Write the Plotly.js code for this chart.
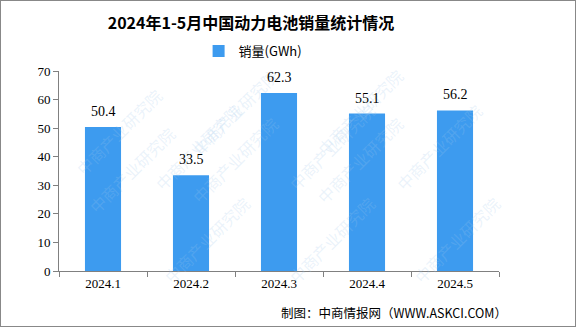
<!DOCTYPE html>
<html><head><meta charset="utf-8">
<script src="https://cdn.plot.ly/plotly-3.0.1.min.js"></script>
<style>html,body{margin:0;padding:0;background:#fff}#c{width:576px;height:327px;box-sizing:border-box;border:1px solid #888}</style>
</head><body><div id="c"></div>
<script>
const categories = ["2024.1","2024.2","2024.3","2024.4","2024.5"];
const sales = [50.4, 33.5, 62.3, 55.1, 56.2];
const yTicks = [0,10,20,30,40,50,60,70];
const seriesName = "销量(GWh)";
const titleText = "2024年1-5月中国动力电池销量统计情况";
const sourceText = "制图：中商情报网（WWW.ASKCI.COM）";

const numFont = "SimSun, 'Liberation Serif', 'Noto Sans CJK SC', serif";
const cjkFont = "'Noto Sans CJK SC', sans-serif";

const wm = [];
const wmPos = [[0.02,0.95],[0.40,1.05],[0.80,1.05],[0.2,0.62],[0.62,0.62],[0.98,0.62],[0.05,0.25],[0.4,0.3],[0.8,0.3],[0.22,-0.1],[0.62,-0.1],[1.02,-0.1]];
wmPos.forEach(p=>wm.push({xref:'paper',yref:'paper',x:p[0],y:p[1],text:'中商产业研究院',showarrow:false,textangle:-45,font:{family:cjkFont,size:16,color:'rgba(160,200,235,0.22)'}}));

const labels = sales.map((v,i)=>({xref:'x',yref:'y',x:i,y:v,yanchor:'bottom',yshift:6,text:v.toFixed(1),showarrow:false,font:{family:numFont,size:14,color:'#000'}}));

const trace = {
  type:'bar', x:categories, y:sales, name:seriesName,
  marker:{color:'#3d9bef'},
  hoverinfo:'none'
};
const layout = {
  width:576, height:327,
  margin:{l:58,r:78,t:70,b:57},
  paper_bgcolor:'rgba(0,0,0,0)', plot_bgcolor:'rgba(0,0,0,0)',
  title:{text:'<b>'+titleText+'</b>', x:0.434, xanchor:'center', y:0.93, yanchor:'middle', font:{family:cjkFont,size:16,color:'#000'}},
  showlegend:true,
  legend:{orientation:'h', x:0.44, xanchor:'center', y:1.10, yanchor:'middle', font:{family:cjkFont,size:13,color:'#000'}, itemwidth:30},
  bargap:0.59,
  xaxis:{type:'category', categoryarray:categories, categoryorder:'array', range:[-0.5,4.5], showline:true, linecolor:'#808080', linewidth:1, ticks:'outside', tickson:'boundaries', ticklen:5, tickcolor:'#808080', tickfont:{family:numFont,size:13,color:'#000'}, showgrid:false, zeroline:false, fixedrange:true},
  yaxis:{range:[0,70], tickvals:yTicks, showline:true, linecolor:'#808080', linewidth:1, ticks:'outside', ticklen:5, tickcolor:'#808080', tickfont:{family:numFont,size:13,color:'#000'}, showgrid:false, zeroline:false, fixedrange:true},
  annotations: wm.concat(labels).concat([{xref:'paper',yref:'paper',x:1.023,xanchor:'right',y:-0.205,yanchor:'middle',text:sourceText,showarrow:false,font:{family:cjkFont,size:12.5,color:'#000'}}])
};
Plotly.newPlot('c',[trace],layout,{staticPlot:true,displayModeBar:false});
</script></body></html>
